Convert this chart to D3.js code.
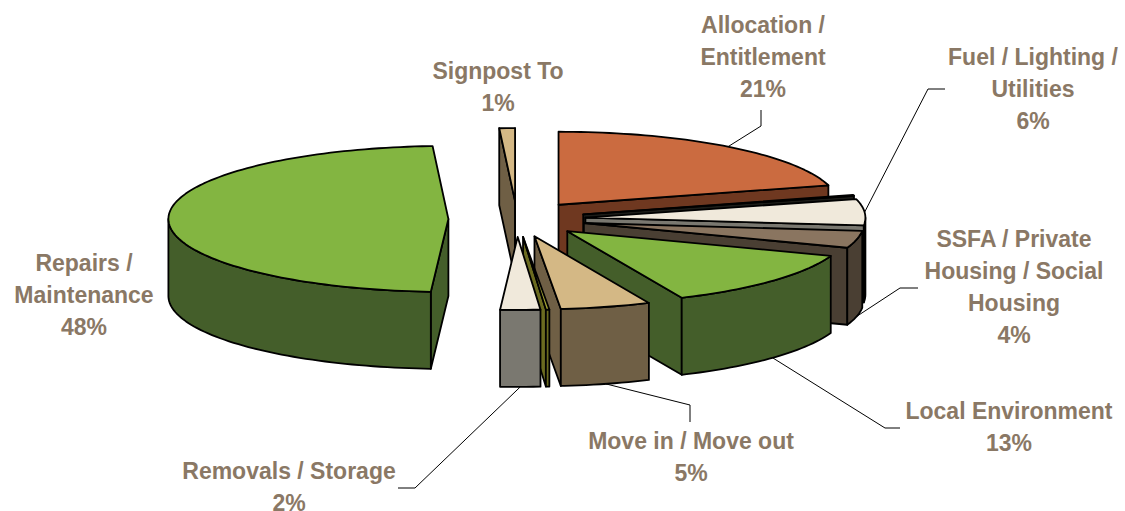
<!DOCTYPE html>
<html>
<head>
<meta charset="utf-8">
<script src="https://cdn.jsdelivr.net/npm/d3@7"></script>
<style>
  body { margin: 0; background: #fff; }
  svg { display: block; }
</style>
</head>
<body>
<svg id="chart"></svg>
<script>
/* Data, clockwise from 12 o'clock. Two slivers have no label in the chart */
const labels = [
  ["Allocation /", "Entitlement", "21%"],
  [],
  ["Fuel / Lighting /", "Utilities", "6%"],
  ["SSFA / Private", "Housing / Social", "Housing", "4%"],
  ["Local Environment", "13%"],
  ["Move in / Move out", "5%"],
  [],
  ["Removals / Storage", "2%"],
  ["Repairs /", "Maintenance", "48%"],
  ["Signpost To", "1%"]
];
const values = [20.7, 0.2, 5.8, 3.8, 12.8, 5.2, 0.2, 2.3, 48.1, 0.9];
const topColors = ["#cb6b40", "#2a2a22", "#f0e9db", "#8a7560", "#83b541", "#d4b885", "#a3a235", "#f0e9db", "#83b541", "#d4b885"];
const sideColors = ["#6f3820", "#1c1c18", "#7a7870", "#4a3f33", "#445e2a", "#6f5f45", "#6b6b20", "#7a7870", "#445e2a", "#6f5f45"];

/* Label placement: centre x and y of the first line */
const labelX = [763, 0, 1033, 1014, 1009, 691, 0, 289, 84, 498];
const labelY = [25, 0, 57, 239, 411, 441, 0, 471, 263, 71];
/* Leader elbows, null where a label has none; the first point comes from the slice */
const leaders = [
  [[761, 126], [761, 110]],
  null,
  [[928, 89], [945, 89]],
  [[900, 288], [918, 288]],
  [[885, 428], [900, 428]],
  [[690, 405], [690, 422]],
  null,
  [[415, 488], [398, 488]],
  null,
  null
];

/* Define size */
const width = 1125,
  height = 511,
  centerX = 517,
  centerY = 219,
  radiusX = 280,
  radiusY = 73,
  depth = 77,
  explode = 0.245;

const xScale = d3.scaleLinear().domain([-1, 1]).range([centerX - radiusX, centerX + radiusX]);
const yScale = d3.scaleLinear().domain([-1, 1]).range([centerY - radiusY, centerY + radiusY]);

const pie = d3.pie().sort(null);
const slices = pie(values).map((d, i) => ({
  index: i,
  start: d.startAngle,
  end: d.endAngle,
  mid: (d.startAngle + d.endAngle) / 2
}));

/* Point on a slice in unit coordinates: r 0 is the apex, r 1 the rim */
const point = (slice, angle, r, drop) => [
  xScale(explode * Math.sin(slice.mid) + r * Math.sin(angle)),
  yScale(-explode * Math.cos(slice.mid) - r * Math.cos(angle)) + (drop ? depth : 0)
];

const rimAngles = (a0, a1) => {
  const angles = d3.range(a0, a1, Math.PI / 120);
  angles.push(a1);
  return angles;
};

const polygon = d3.line().curve(d3.curveLinearClosed);

const svg = d3.select("#chart").attr("width", width).attr("height", height);

const drawFace = (points, color) => {
  svg
    .append("path")
    .attr("d", polygon(points))
    .attr("fill", color)
    .attr("stroke", "#000")
    .attr("stroke-width", 1.8)
    .attr("stroke-linejoin", "round");
};

/* Draw the slices back to front */
slices
  .slice()
  .sort((a, b) => Math.cos(b.mid) - Math.cos(a.mid))
  .forEach((s) => {
    const side = sideColors[s.index];

    /* Cut faces, only the ones turned to the viewer */
    [s.start, s.end].forEach((angle, k) => {
      const visible = k === 0 ? Math.sin(angle) < 0 : Math.sin(angle) > 0;
      if (visible) {
        drawFace(
          [point(s, angle, 0), point(s, angle, 1), point(s, angle, 1, true), point(s, angle, 0, true)],
          side
        );
      }
    });

    /* Outer wall, front half of the ellipse only */
    const a0 = Math.max(s.start, Math.PI / 2);
    const a1 = Math.min(s.end, (3 * Math.PI) / 2);
    if (a1 > a0) {
      const angles = rimAngles(a0, a1);
      drawFace(
        angles.map((a) => point(s, a, 1)).concat(angles.slice().reverse().map((a) => point(s, a, 1, true))),
        side
      );
    }

    /* Top */
    drawFace([point(s, s.start, 0)].concat(rimAngles(s.start, s.end).map((a) => point(s, a, 1))), topColors[s.index]);
  });

/* Leader lines */
const leaderLine = d3.line();
leaders.forEach((elbows, i) => {
  if (!elbows) return;
  const s = slices[i];
  const onFront = Math.cos(s.mid) < -0.2;
  svg
    .append("path")
    .attr("d", leaderLine([point(s, s.mid, 1, onFront)].concat(elbows)))
    .attr("fill", "none")
    .attr("stroke", "#000")
    .attr("stroke-width", 1);
});

/* Labels */
labels.forEach((lines, i) => {
  lines.forEach((line, k) => {
    svg
      .append("text")
      .attr("x", labelX[i])
      .attr("y", labelY[i] + k * 32)
      .attr("dy", "0.35em")
      .attr("text-anchor", "middle")
      .attr("font-family", "'Liberation Sans', Arial, sans-serif")
      .attr("font-weight", "bold")
      .attr("font-size", 23)
      .attr("fill", "#8a7865")
      .text(line);
  });
});
</script>
</body>
</html>
